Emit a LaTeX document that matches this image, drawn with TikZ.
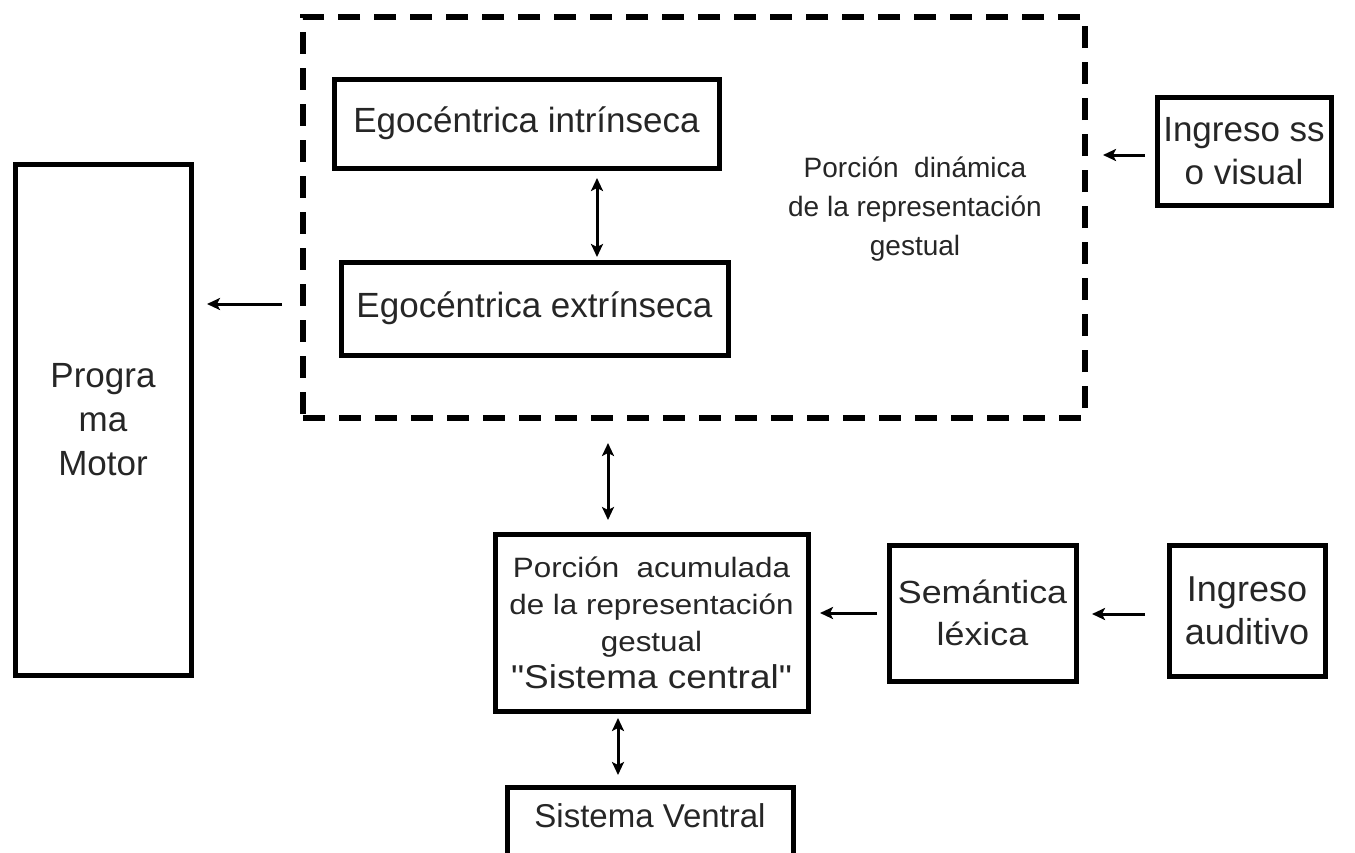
\documentclass[tikz,border=0pt]{standalone}
\usepackage{fontspec}
\setmainfont{Liberation Sans}
\newfontfamily\widefont[FakeStretch=1.12]{Liberation Sans}
\usetikzlibrary{arrows.meta}
\begin{document}
\begin{tikzpicture}[x=1pt,y=-1pt,
  box/.style={draw=black, line width=5pt, inner sep=0pt, text=black!85, align=center},
  tip/.style={Stealth[length=13pt,width=12pt,inset=3pt]},
  arr/.style={line width=3pt, -{Stealth[length=13pt,width=12pt,inset=3pt]}},
  dbl/.style={line width=3pt, {Stealth[length=13pt,width=12pt,inset=3pt]}-{Stealth[length=13pt,width=12pt,inset=3pt]}},
  dashbox/.style={draw=black, line width=6pt, dash pattern=on 22pt off 14pt, inner sep=0pt},
  plain/.style={text=black!85, align=center, inner sep=0pt}
]
\useasboundingbox (0,0) rectangle (1355,852);
\fill[white] (0,0) rectangle (1355,852);

\node[box, minimum width=176pt, minimum height=511pt, font=\fontsize{35}{44}\selectfont] (prog) at (103,419.5) {Progra\\ma\\Motor};

\node[dashbox, minimum width=782pt, minimum height=401pt] (dyn) at (694,217.5) {};

\node[box, minimum width=385pt, minimum height=89pt, font=\fontsize{35}{42}\selectfont] (intr) at (526.5,123.5) {Egocéntrica intrínseca};
\node[box, minimum width=387pt, minimum height=93pt, font=\fontsize{35}{42}\selectfont] (extr) at (534.5,308.5) {Egocéntrica extrínseca};

\node[plain, font=\fontsize{28}{39}\selectfont] (dyntxt) at (915,209) {Porción\ \ dinámica\\de la representación\\gestual};

\node[box, minimum width=174pt, minimum height=108pt, font=\fontsize{35}{43}\selectfont] (ivis) at (1244,151) {Ingreso ss\\o visual};

\node[box, minimum width=313pt, minimum height=177pt, font=\widefont\fontsize{28}{37}\selectfont] (acum) at (651.5,622.5) {Porción\ \ acumulada\\de la representación\\gestual\\{\fontsize{33}{37}\selectfont "Sistema central"}};

\node[box, minimum width=187pt, minimum height=136pt, font=\widefont\fontsize{32}{42}\selectfont] (sem) at (982.5,613) {Semántica\\léxica};

\node[box, minimum width=156pt, minimum height=131pt, font=\fontsize{36}{43}\selectfont] (aud) at (1247,610.5) {Ingreso\\auditivo};

\node[box, minimum width=286pt, minimum height=71pt, text height=40pt, text depth=31pt, font=\fontsize{33}{40}\selectfont, anchor=north] (vent) at (650,784.5) {Sistema Ventral};

% connectors
\coordinate (a1) at ([yshift=-4pt]ivis.west);
\draw[arr, shorten <=9.5pt, shorten >=15pt] (a1) -- (a1 -| dyn.east);

\coordinate (a2) at ([yshift=-86.5pt]dyn.west);
\draw[arr, shorten <=18pt, shorten >=13.5pt] (a2) -- (a2 -| prog.east);

\coordinate (a3) at ([xshift=70.5pt]intr.south);
\draw[dbl, shorten <=7.5pt, shorten >=2.5pt] (a3) -- (a3 |- extr.north);

\coordinate (a4) at ([xshift=-86pt]dyn.south);
\draw[dbl, shorten <=22pt, shorten >=11.5pt] (a4) -- (a4 |- acum.north);

\draw[arr, shorten <=9.5pt, shorten >=9.5pt] (sem.west) -- (sem.west -| acum.east);

\coordinate (a6) at ([yshift=-3.5pt]aud.west);
\draw[arr, shorten <=21.5pt, shorten >=13.5pt] (a6) -- (a6 -| sem.east);

\coordinate (a7) at ([xshift=-33.5pt]acum.south);
\draw[dbl, shorten <=4.5pt, shorten >=9.5pt] (a7) -- (a7 |- vent.north);
\end{tikzpicture}
\end{document}
